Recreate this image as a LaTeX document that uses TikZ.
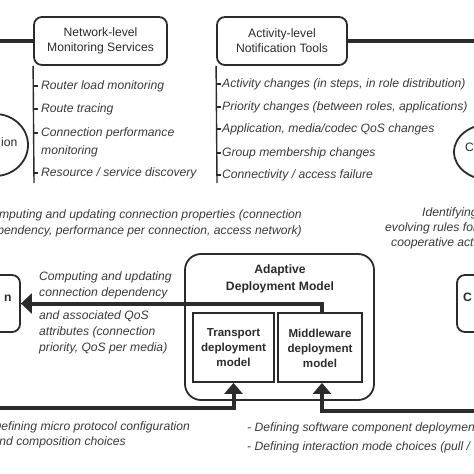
\documentclass[tikz,border=0pt]{standalone}
\usepackage{fontspec}
\setmainfont{Liberation Sans}
\usetikzlibrary{arrows.meta,shapes.geometric}
\definecolor{ln}{HTML}{2B2B2B}
\definecolor{tx}{HTML}{3A3A3A}
\begin{document}
\begin{tikzpicture}[x=1bp,y=-1bp,
  hbox/.style={draw=ln,line width=1.8bp,rounded corners=8bp,align=center,inner sep=0pt,
    font=\fontsize{12.2}{15}\selectfont,text=ln},
  item/.style={anchor=west,inner sep=0pt,align=left,text=tx,
    font=\fontsize{12.2}{18}\selectfont\itshape},
  note/.style={inner sep=0pt,text=tx,font=\fontsize{12.2}{16}\selectfont\itshape},
  listline/.style={draw=ln,line width=1.4bp},
  thickline/.style={draw=ln,line width=4bp},
  bigarrow/.style={draw=ln,line width=4bp,-{Triangle[length=11bp,width=20bp]}},
  smallarrow/.style={draw=ln,line width=4bp,-{Triangle[length=11bp,width=18bp]}},
  plainbox/.style={draw=ln,line width=1.8bp,inner sep=0pt},
  boldtxt/.style={inner sep=0pt,align=center,text=ln,font=\fontsize{12.2}{16.5}\selectfont\bfseries},
  innertxt/.style={inner sep=0pt,align=center,text=ln,font=\fontsize{11.6}{15}\selectfont\bfseries},
  regtxt/.style={inner sep=0pt,text=ln,font=\fontsize{12.2}{15}\selectfont}
]
\useasboundingbox (0,0) rectangle (474,474);
\clip (0,0) rectangle (474,474);

% header boxes
\node[hbox,minimum width=133bp,minimum height=48bp] (net) at (100.5,41) {Network-level\\Monitoring Services};
\node[hbox,minimum width=130bp,minimum height=48bp] (act) at (282,41) {Activity-level\\Notification Tools};
\coordinate (tl) at (0,41);
\coordinate (tr) at (474,41);
\draw[thickline] (tl) -- (net.west);
\draw[thickline] (act.east) -- (tr);

% network list
\coordinate (netend) at (34,183);
\draw[listline] (net.south west) -- (netend);
\foreach \y in {86,109,133,173} {\draw[listline] (34,\y) -- (37.5,\y);}
\node[item] (n1) at (41,86) {Router load monitoring};
\node[item] (n2) at (41,109) {Route tracing};
\node[item] (n3) at (41,142) {Connection performance\\monitoring};
\node[item] (n4) at (41,173) {Resource / service discovery};

% activity list
\coordinate (actend) at (217,183);
\draw[listline] (act.south west) -- (actend);
\foreach \y in {84,107,129,153,175} {\draw[listline] (217,\y) -- (220.5,\y);}
\node[item] (a1) at (222,84) {Activity changes (in steps, in role distribution)};
\node[item] (a2) at (222,107) {Priority changes (between roles, applications)};
\node[item] (a3) at (222,129) {Application, media/codec QoS changes};
\node[item] (a4) at (222,153) {Group membership changes};
\node[item] (a5) at (222,175) {Connectivity / access failure};

% ellipses at the sides
\node[draw=ln,line width=1.8bp,ellipse,minimum width=66bp,minimum height=62bp,inner sep=0pt] (ellL) at (-5,145) {};
\node[regtxt,anchor=west] (ellLt) at (1,142) {ion};
\node[draw=ln,line width=1.8bp,ellipse,minimum width=72bp,minimum height=56bp,inner sep=0pt] (ellR) at (490,152) {};
\node[regtxt,anchor=west] (ellRt) at (465,147) {C};

% middle texts
\node[note,anchor=east,align=right] (mid) at (302,223) {Computing and updating connection properties (connection\\dependency, performance per connection, access network)};
\node[note,anchor=west] (r1) at (422,213) {Identifying};
\node[note,anchor=west] (r2) at (385,228) {evolving rules for};
\node[note,anchor=west] (r3) at (391,243) {cooperative activities};

% side boxes
\node[draw=ln,line width=1.8bp,rounded corners=8bp,minimum width=70bp,minimum height=57bp,inner sep=0pt] (lbox) at (-15,303.5) {};
\node[boldtxt,anchor=west] (lboxt) at (4,298) {n};
\node[draw=ln,line width=1.8bp,rounded corners=8bp,minimum width=70bp,minimum height=57bp,inner sep=0pt] (rbox) at (492,303.5) {};
\node[boldtxt,anchor=west] (rboxt) at (463,297) {C};

% adaptive deployment model
\node[draw=ln,line width=1.8bp,rounded corners=16bp,minimum width=189bp,minimum height=146bp,inner sep=0pt] (adm) at (279.5,327) {};
\node[boldtxt] (admt) at (280,279) {Adaptive\\Deployment Model};
\node[plainbox,minimum width=81bp,minimum height=69bp] (trb) at (233.5,347.5) {};
\node[innertxt] (trbt) at (233.5,348) {Transport\\deployment\\model};
\node[plainbox,minimum width=84bp,minimum height=69bp] (mwb) at (320,347.5) {};
\node[innertxt] (mwbt) at (320,348) {Middleware\\deployment\\model};

% arrows
\draw[bigarrow] ([xshift=2bp]mwb.north) |- (lbox.east);
\coordinate (bl) at (0,408);
\coordinate (br) at (474,411);
\draw[smallarrow] (bl) -| (trb.south);
\draw[smallarrow] (br) -| ([xshift=2bp]mwb.south);

% arrow labels
\node[note,anchor=west,align=left] (la1) at (39,285) {Computing and updating\\connection dependency};
\node[note,anchor=west,align=left] (la2) at (39,332) {and associated QoS\\attributes (connection\\priority, QoS per media)};

% bottom texts
\node[note,anchor=west] (b1) at (-15,427) {- Defining micro protocol configuration};
\node[note,anchor=west] (b2) at (-7.5,442) {and composition choices};
\node[note,anchor=west] (b3) at (247,428) {- Defining software component deployment};
\node[note,anchor=west] (b4) at (247,447) {- Defining interaction mode choices (pull /};
\end{tikzpicture}
\end{document}
